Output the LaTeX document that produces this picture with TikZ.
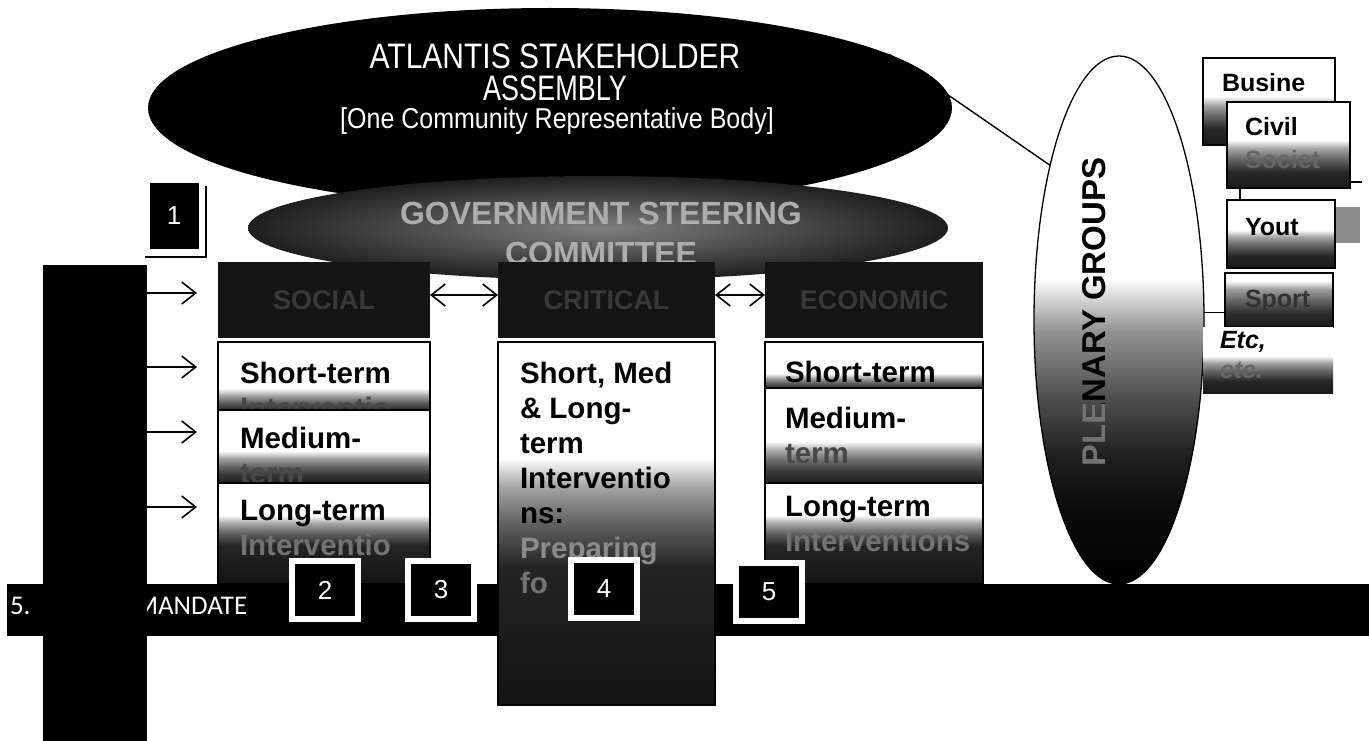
\documentclass[tikz,border=0pt]{standalone}
\usepackage{fontspec}
\setmainfont{Liberation Sans}
\newfontfamily\calibfont{Carlito}
\usetikzlibrary{arrows.meta,shapes.geometric,calc}

% vertical fades (white at the top, dark at the bottom); the filled box maps onto 25bp..75bp
\pgfdeclareverticalshading{fadelow}{100bp}{color(0bp)=(black!85); color(25bp)=(black!85); color(30bp)=(black!65); color(35bp)=(black!40); color(41bp)=(white); color(100bp)=(white)}
\pgfdeclareverticalshading{fadehalf}{100bp}{color(0bp)=(black!88); color(25bp)=(black!88); color(31bp)=(black!78); color(37bp)=(black!58); color(42bp)=(black!35); color(47bp)=(white); color(100bp)=(white)}
\pgfdeclareverticalshading{fademid}{100bp}{color(0bp)=(black!90); color(25bp)=(black!90); color(34bp)=(black!85); color(42bp)=(black!60); color(48bp)=(black!35); color(53bp)=(white); color(100bp)=(white)}
\pgfdeclareverticalshading{fadetop}{100bp}{color(0bp)=(black!90); color(25bp)=(black!90); color(38bp)=(black!82); color(50bp)=(black!60); color(60bp)=(black!38); color(68bp)=(white); color(100bp)=(white)}
\pgfdeclareverticalshading{fadetall}{100bp}{color(0bp)=(black!92); color(25bp)=(black!92); color(44bp)=(black!86); color(50bp)=(black!62); color(55bp)=(black!36); color(59bp)=(white); color(100bp)=(white)}
\pgfdeclareverticalshading{fadeplen}{100bp}{color(0bp)=(black); color(25bp)=(black); color(32bp)=(black!96); color(37bp)=(black!88); color(43bp)=(black!68); color(49bp)=(black!42); color(54bp)=(white); color(100bp)=(white)}

\begin{document}
\begin{tikzpicture}[x=1pt,y=-1pt,
  every node/.style={inner sep=0pt, outer sep=0pt},
  panel/.style={draw=black, line width=1.4pt, anchor=north west, minimum width=#1},
  header/.style={fill=black!92, anchor=north west, minimum width=#1, minimum height=76pt,
    text=black!78, font=\fontsize{27}{32}\selectfont\bfseries},
  lbl/.style={anchor=base west, font=\fontsize{29.5}{34}\selectfont\bfseries},
  hid/.style={lbl, text=black!72},
  rlbl/.style={anchor=base west, font=\fontsize{25}{29}\selectfont\bfseries},
  numbox/.style={fill=black, draw=white, line width=6pt, minimum width=66pt, minimum height=58pt,
    text=white, font=\fontsize{26}{29}\selectfont},
  arr/.style={line width=1.6pt, -{Straight Barb[length=14pt,width=22pt,line width=1.6pt]}},
  darr/.style={line width=1.6pt, {Straight Barb[length=14pt,width=22pt,line width=1.6pt]}-{Straight Barb[length=14pt,width=22pt,line width=1.6pt]}},
  link/.style={line width=1.4pt}
]
\useasboundingbox (0,0) rectangle (1369,741);
\fill[white] (0,0) rectangle (1369,741);

% ---- stakeholder assembly ----
\node[ellipse, fill=black, minimum width=804pt, minimum height=200pt] (asm) at (550,108) {};
\node[anchor=base, text=white, font=\fontsize{30}{34}\selectfont] (asm1) at (555,69) {\scalebox{1}[1.18]{ATLANTIS STAKEHOLDER}};
\node[anchor=base, text=white, font=\fontsize{30}{34}\selectfont] (asm2) at (555,101) {\scalebox{0.9}[1.18]{ASSEMBLY}};
\node[anchor=base, text=white, font=\fontsize{25}{30}\selectfont] (asm3) at (557,129) {\scalebox{1}[1.15]{[One Community Representative Body]}};

% ---- plenary link ----
\node[ellipse, draw=black, line width=1.3pt, minimum width=170pt, minimum height=528pt, shade, shading=fadeplen] (plen) at (1119,320) {};
\draw[link] (asm.9) -- (plen.114);

% ---- government steering committee ----
\node[ellipse, minimum width=700pt, minimum height=104pt, inner color=black!50, outer color=black!88] (gov) at (598,228) {};
\node[anchor=base, text=black!32, font=\fontsize{32}{36}\selectfont\bfseries] (gov1) at (601,225) {GOVERNMENT STEERING};
\node[anchor=base, text=black!32, font=\fontsize{32}{36}\selectfont\bfseries] (gov2) at (601,264) {COMMITTEE};

% ---- box 1 ----
\node[fill=black, draw=white, line width=3pt, minimum width=52pt, minimum height=68pt,
  text=white, font=\fontsize{26}{29}\selectfont] (n1) at (174,216) {1};
\draw[line width=2pt] ($(n1.north east)+(6,4)$) -- ($(n1.south east)+(6,7)$) -- ($(n1.south west)+(-3,7)$);

% ---- mandate bar ----
\node[fill=black, anchor=north west, minimum width=1362pt, minimum height=52pt] (hbar) at (7,584) {};
\node[anchor=base west, text=white, font=\calibfont\fontsize{27}{30}\selectfont] (m5) at (10,614) {5.};
\node[anchor=base west, text=white, font=\calibfont\fontsize{27}{30}\selectfont] (mand) at (135,614) {MANDATE};
\node[fill=black, anchor=north west, minimum width=104pt, minimum height=476pt] (vbar) at (43,265) {};

% ---- column 1 ----
\node[header=212] (h1) at (218,262) {SOCIAL};
\node[panel=212, minimum height=68pt, shade, shading=fadelow] (s1) at (218,342) {};
\node[lbl] (s1t) at (240,383) {Short-term};
\node[hid] (s1u) at (240,418) {Interventio};
\node[panel=212, minimum height=73pt, shade, shading=fadehalf] (m1) at (218,410) {};
\node[lbl] (m1t) at (240,448) {Medium-};
\node[hid] (m1u) at (240,483) {term};
\node[panel=212, minimum height=101pt, shade, shading=fadetall] (l1) at (218,483) {};
\node[lbl] (l1t) at (240,520) {Long-term};
\node[hid, text=black!55] (l1u) at (240,555) {Interventio};

% ---- column 2 ----
\node[header=217] (h2) at (498,262) {CRITICAL};
\node[panel=217, minimum height=363pt, shade, shading=fadetall] (c2) at (498,342) {};
\node[lbl] (c2a) at (520,383) {Short, Med};
\node[lbl] (c2b) at (520,418) {\& Long-};
\node[lbl] (c2c) at (520,453) {term};
\node[lbl] (c2d) at (520,488) {Interventio};
\node[lbl] (c2e) at (520,523) {ns:};
\node[hid, text=black!45] (c2f) at (520,558) {Preparing};
\node[hid, text=black!55] (c2g) at (520,593) {fo};

% ---- column 3 ----
\node[header=218] (h3) at (765,262) {ECONOMIC};
\node[panel=218, minimum height=46pt, shade, shading=fadelow] (s3) at (765,342) {};
\node[lbl] (s3t) at (785,382) {Short-term};
\node[panel=218, minimum height=95pt, shade, shading=fadehalf] (m3) at (765,388) {};
\node[lbl] (m3t) at (785,428) {Medium-};
\node[hid] (m3u) at (785,463) {term};
\node[panel=218, minimum height=101pt, shade, shading=fadetall] (l3) at (765,483) {};
\node[lbl] (l3t) at (785,516) {Long-term};
\node[hid, text=black!55] (l3u) at (785,551) {Interventions};

% ---- connectors between the pillars ----
\draw[darr] ($(h1.north east)+(0,33)$) -- ($(h2.north west)+(0,33)$);
\draw[darr] ($(h2.north east)+(0,33)$) -- ($(h3.north west)+(0,33)$);
\draw[arr] ($(vbar.east |- h1.north west)+(0,31)$) -- ($(h1.north west)+(-21,31)$);
\draw[arr] ($(vbar.east |- s1.north west)+(0,25)$) -- ($(s1.north west)+(-21,25)$);
\draw[arr] ($(vbar.east |- m1.north west)+(0,22)$) -- ($(m1.north west)+(-21,22)$);
\draw[arr] ($(vbar.east |- l1.north west)+(0,24)$) -- ($(l1.north west)+(-21,24)$);

% ---- numbered markers ----
\node[numbox] (n2) at (325,590) {2};
\node[numbox] (n3) at (441,590) {3};
\node[numbox] (n4) at (604,589) {4};
\node[numbox] (n5) at (769,592) {5};

% ---- plenary label ----
\node[rotate=90, font=\fontsize{33}{38}\selectfont\bfseries] (plent) at (1094,312) {PLENARY GROUPS};
\begin{scope}
  \clip (1000,404) rectangle (1200,560);
  \node[rotate=90, text=black!55, font=\fontsize{33}{38}\selectfont\bfseries] (plenl) at (1094,312) {PLENARY GROUPS};
\end{scope}

% ---- stakeholder groups ----
\fill[black!45] (1335,207) rectangle (1360,243);
\node[panel=132, minimum height=87pt, shade, shading=fademid] (bus) at (1203,58) {};
\node[rlbl] (bust) at (1222,92) {Busine};
\node[panel=123, minimum height=86pt, shade, shading=fademid] (civ) at (1227,102) {};
\node[rlbl] (civt) at (1245,136) {Civil};
\node[rlbl, text=black!60] (civu) at (1245,169) {Societ};
\draw[link] ($(civ.south east)+(0,-6)$) -- ++(12,0);
\node[panel=108, minimum height=68pt, shade, shading=fademid] (yout) at (1227,200) {};
\draw[link] ($(civ.south west)+(13,0)$) -- ($(yout.north west)+(13,0)$);
\node[rlbl] (youtt) at (1245,236) {Yout};
\node[panel=108, minimum height=54pt, shade, shading=fadetop] (spo) at (1225,273) {};
\node[rlbl, text=black!80] (spot) at (1245,307) {Sport};
\draw[link] (plen.5) -- (plen.5 -| spo.west);
\node[anchor=north west, minimum width=130pt, minimum height=66pt, shade, shading=fademid] (etc) at (1203,327) {};
\node[rlbl, font=\fontsize{25}{29}\selectfont\bfseries\itshape] (etct) at (1220,348) {Etc,};
\node[rlbl, text=black!60, font=\fontsize{25}{29}\selectfont\bfseries\itshape] (etcu) at (1220,378) {etc.};
\end{tikzpicture}
\end{document}
